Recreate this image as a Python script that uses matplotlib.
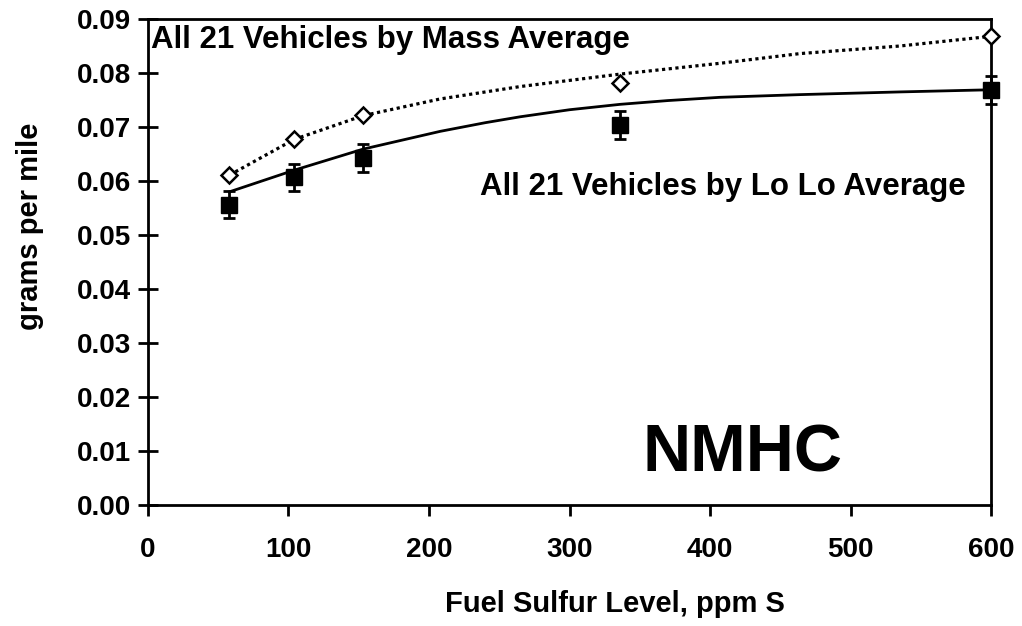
import matplotlib
matplotlib.use("Agg")
import matplotlib.pyplot as plt

# Measured points
sulfur = [58, 104, 153, 336, 600]
lolo_avg = [0.0556, 0.0607, 0.0643, 0.0703, 0.0769]
lolo_err = [0.0025, 0.0025, 0.0026, 0.0026, 0.0026]
mass_avg = [0.0611, 0.0677, 0.0722, 0.0782, 0.0868]

# Trend curves
lolo_curve_x = [58, 104, 153, 208, 240, 265, 300, 336, 370, 407, 464, 535, 600]
lolo_curve = [0.0580, 0.0620, 0.0659, 0.0692, 0.0708, 0.0719, 0.0732, 0.0742, 0.0749,
              0.0755, 0.0760, 0.0765, 0.0769]
mass_curve_x = [58, 104, 153, 208, 265, 336, 407, 464, 535, 600]
mass_curve = [0.0611, 0.0677, 0.0721, 0.0752, 0.0775, 0.0798, 0.0818, 0.0836, 0.0850, 0.0868]

plt.rcParams['font.family'] = ['Liberation Sans', 'DejaVu Sans']
plt.rcParams['font.weight'] = 'bold'

fig = plt.figure(figsize=(10.22, 6.26), dpi=100)
ax = fig.add_axes([0.1448, 0.1933, 0.8249, 0.7763])

ax.plot(lolo_curve_x, lolo_curve, color='black', lw=2.0)
ax.plot(mass_curve_x, mass_curve, color='black', lw=2.3, linestyle=(0, (1, 1.1)))

eb = ax.errorbar(sulfur, lolo_avg, yerr=lolo_err, fmt='s', color='black', ms=11,
                 ecolor='black', elinewidth=2, capsize=4.5, capthick=2, zorder=5)
for art in eb.get_children():
    art.set_clip_on(False)
ax.plot(sulfur, mass_avg, 'D', ms=8, mfc='white', mec='black', mew=1.8, zorder=6,
        clip_on=False)

ax.set_xlim(0, 600)
ax.set_ylim(0, 0.09)
ax.set_xticks(range(0, 601, 100))
ax.set_yticks([i / 100 for i in range(10)])
ax.set_yticklabels([f"{i / 100:.2f}" for i in range(10)])

for s in ax.spines.values():
    s.set_linewidth(2)
ax.tick_params(axis='y', direction='inout', length=14, width=2, labelsize=20, pad=5)
ax.tick_params(axis='x', direction='out', length=8, width=2, labelsize=20, pad=15)
for lab in ax.get_xticklabels() + ax.get_yticklabels():
    lab.set_fontweight('bold')

ax.set_xlabel('Fuel Sulfur Level, ppm S', fontsize=21, fontweight='bold')
ax.set_ylabel('grams per mile', fontsize=21, fontweight='bold')
ax.xaxis.set_label_coords(0.554, -0.204)
ax.yaxis.set_label_coords(-0.14, 0.573)
ax.xaxis.label.set_va('center')
ax.yaxis.label.set_va('center')

ax.text(2, 0.0861, 'All 21 Vehicles by Mass Average', fontsize=22.5, fontweight='bold',
        va='center', ha='left')
ax.text(582, 0.0588, 'All 21 Vehicles by Lo Lo Average', fontsize=22.5, fontweight='bold',
        va='center', ha='right')
ax.text(423, 0.0093, 'NMHC', fontsize=48, fontweight='bold', va='center', ha='center')

fig.savefig('out.png', dpi=100)
